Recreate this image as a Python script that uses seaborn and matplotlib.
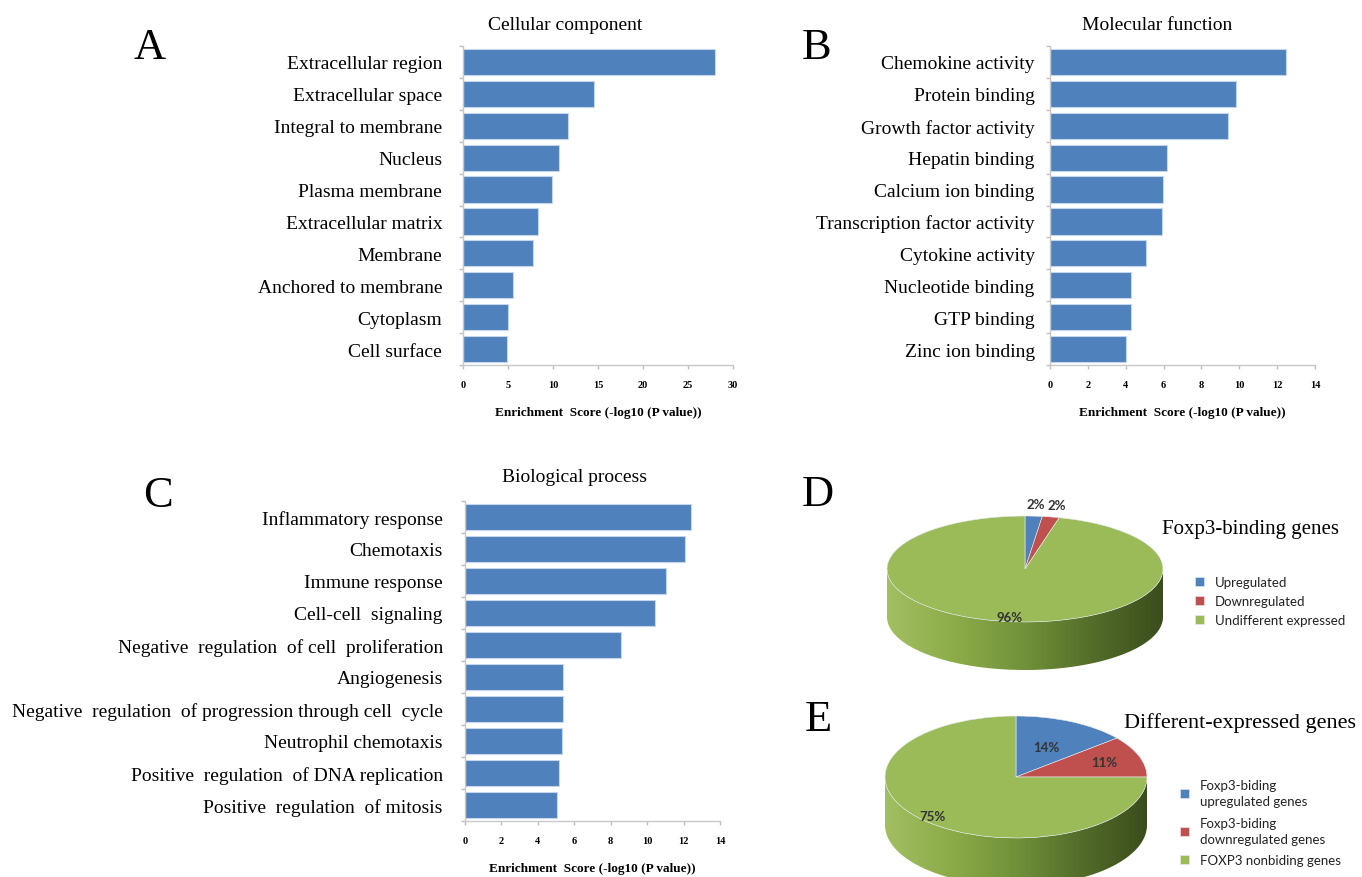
import numpy as np
import pandas as pd
import seaborn as sns
import matplotlib.pyplot as plt
from matplotlib.path import Path
from matplotlib.patches import PathPatch
from matplotlib.colors import LinearSegmentedColormap

# GO enrichment data
cc_terms = ['Extracellular region', 'Extracellular space', 'Integral to membrane', 'Nucleus',
            'Plasma membrane', 'Extracellular matrix', 'Membrane', 'Anchored to membrane',
            'Cytoplasm', 'Cell surface']
cc_scores = [28.0, 14.6, 11.7, 10.7, 9.9, 8.3, 7.8, 5.6, 5.0, 4.85]

mf_terms = ['Chemokine activity', 'Protein binding', 'Growth factor activity', 'Hepatin binding',
            'Calcium ion binding', 'Transcription factor activity', 'Cytokine activity',
            'Nucleotide binding', 'GTP binding', 'Zinc ion binding']
mf_scores = [12.45, 9.84, 9.42, 6.16, 5.97, 5.92, 5.07, 4.30, 4.30, 4.03]

bp_terms = ['Inflammatory response', 'Chemotaxis', 'Immune response', 'Cell-cell  signaling',
            'Negative  regulation  of cell  proliferation', 'Angiogenesis',
            'Negative  regulation  of progression through cell  cycle', 'Neutrophil chemotaxis',
            'Positive  regulation  of DNA replication', 'Positive  regulation  of mitosis']
bp_scores = [12.43, 12.10, 11.06, 10.43, 8.55, 5.38, 5.38, 5.33, 5.14, 5.05]

d_labels = ['Upregulated', 'Downregulated', 'Undifferent expressed']
d_pct = [2, 2, 96]
e_labels = ['Foxp3-biding\nupregulated genes', 'Foxp3-biding\ndownregulated genes',
            'FOXP3 nonbiding genes']
e_pct = [14, 11, 75]

BLUE, RED, GREEN = '#4F81BD', '#C0504D', '#9BBB59'
SERIF = ['Liberation Serif', 'DejaVu Serif']
SANS = ['Lato', 'DejaVu Sans']

sns.set_theme(style='white')
plt.rcParams['font.family'] = SERIF
plt.rcParams['text.color'] = 'black'
plt.rcParams['axes.labelcolor'] = 'black'
plt.rcParams['xtick.color'] = 'black'
plt.rcParams['ytick.color'] = 'black'

W, H = 1362, 878
fig = plt.figure(figsize=(W / 100, H / 100), dpi=100)


def px_axes(x0, y0, x1, y1):
    return fig.add_axes([x0 / W, 1 - y1 / H, (x1 - x0) / W, (y1 - y0) / H])


def bar_panel(box, terms, scores, xmax, step, label_pad):
    ax = px_axes(*box)
    df = pd.DataFrame({'term': terms, 'score': scores})
    sns.barplot(data=df, x='score', y='term', orient='h', color=BLUE, saturation=1,
                width=0.82, edgecolor='#c5d6ec', linewidth=0.8, ax=ax)
    ax.set_xlim(0, xmax)
    ax.set_ylim(len(terms) - 0.5, -0.5)
    ax.set_xticks(np.arange(0, xmax + 0.1, step))
    ax.set_yticks(np.arange(-0.5, len(terms)), minor=True)
    ax.tick_params(axis='y', which='major', length=0, pad=label_pad, labelsize=14,
                   labelcolor='black')
    ax.tick_params(axis='y', which='minor', left=True, length=3, color='#bfbfbf', width=1)
    ax.tick_params(axis='x', bottom=True, length=3, color='#bfbfbf', width=1, pad=8,
                   labelsize=7.5, labelcolor='black')
    for t in ax.get_xticklabels():
        t.set_fontweight('bold')
    for s in ['top', 'right']:
        ax.spines[s].set_visible(False)
    for s in ['left', 'bottom']:
        ax.spines[s].set_color('#c8c8c8')
        ax.spines[s].set_linewidth(1)
    ax.set_ylabel('')
    ax.set_xlabel('Enrichment  Score (-log10 (P value))', fontsize=9.5, fontweight='bold',
                  labelpad=12)
    return ax


bar_panel((463, 47, 733, 366), cc_terms, cc_scores, 30, 5, 15)
bar_panel((1050, 47, 1315, 366), mf_terms, mf_scores, 14, 2, 11)
bar_panel((465, 502, 720, 822), bp_terms, bp_scores, 14, 2, 16)

fig.text(565 / W, 1 - 25 / H, 'Cellular component', ha='center', va='center', fontsize=14)
fig.text(1157 / W, 1 - 25 / H, 'Molecular function', ha='center', va='center', fontsize=14)
fig.text(574 / W, 1 - 478 / H, 'Biological process', ha='center', va='center', fontsize=14)

for letter, x, y in [('A', 150, 48), ('B', 817, 48), ('C', 158, 496), ('D', 818, 495), ('E', 818, 720)]:
    fig.text(x / W, 1 - y / H, letter, ha='center', va='center', fontsize=32)

side_cmap = LinearSegmentedColormap.from_list(
    'side', ['#a2bf62', '#8cab48', '#71913a', '#536c29', '#3b4d1c'])


def pie_panel(box, cx, cy, a, b, depth, pct, dists):
    x0, y0, x1, y1 = box
    ax = px_axes(*box)
    d = depth / b
    th = np.linspace(np.pi, 2 * np.pi, 200)
    top = np.column_stack([np.cos(th), np.sin(th)])
    bot = np.column_stack([np.cos(th[::-1]), np.sin(th[::-1]) - d])
    verts = np.vstack([top, bot, top[:1]])
    codes = [Path.MOVETO] + [Path.LINETO] * (len(verts) - 2) + [Path.CLOSEPOLY]
    band = PathPatch(Path(verts, codes), facecolor='none', edgecolor='none')
    ax.add_patch(band)
    img = ax.imshow(np.linspace(0, 1, 256)[None, :], extent=(-1, 1, -1 - d, 0),
                    cmap=side_cmap, aspect='auto', zorder=0)
    img.set_clip_path(band)
    wedges, _, autotexts = ax.pie(pct, colors=[BLUE, RED, GREEN], startangle=90,
                                  counterclock=False, autopct='%d%%',
                                  wedgeprops=dict(edgecolor='#e8eef5', linewidth=0.4),
                                  textprops=dict(family=SANS, fontsize=9.5,
                                                 fontweight='bold', color='#333333'))
    for w, t, r in zip(wedges, autotexts, dists):
        ang = np.deg2rad((w.theta1 + w.theta2) / 2)
        t.set_position((r * np.cos(ang), r * np.sin(ang)))
    ax.set_aspect('auto')
    ax.set_xlim((x0 - cx) / a, (x1 - cx) / a)
    ax.set_ylim((cy - y1) / b, (cy - y0) / b)
    ax.axis('off')
    return ax, wedges


axd, wd = pie_panel((870, 495, 1180, 690), 1025, 570, 138, 53, 48, d_pct, [1.22, 1.22, 0.92])
axd.legend(wd, d_labels, loc='upper left', bbox_to_anchor=(1183 / W, 1 - 565 / H),
           bbox_transform=fig.transFigure, frameon=False,
           prop=dict(family=SANS, size=9.5), labelcolor='#222222',
           handlelength=0.7, handleheight=0.7, handletextpad=0.8, labelspacing=0.55)
fig.text(1250 / W, 1 - 530 / H, 'Foxp3-binding genes', ha='center', va='center', fontsize=15)

axe, we = pie_panel((870, 700, 1180, 878), 1016, 778, 131, 61, 48, e_pct, [0.55, 0.72, 0.9])
leg = axe.legend(we, e_labels, loc='upper left', bbox_to_anchor=(1168 / W, 1 - 768 / H),
                 bbox_transform=fig.transFigure, frameon=False,
                 prop=dict(family=SANS, size=9.5), labelcolor='#222222',
                 handlelength=0.7, handleheight=0.7, handletextpad=0.8, labelspacing=0.7)
for t in leg.get_texts():
    t.set_linespacing(1.45)
fig.text(1240 / W, 1 - 723 / H, 'Different-expressed genes', ha='center', va='center',
         fontsize=16)

fig.savefig('out.png', dpi=100)
